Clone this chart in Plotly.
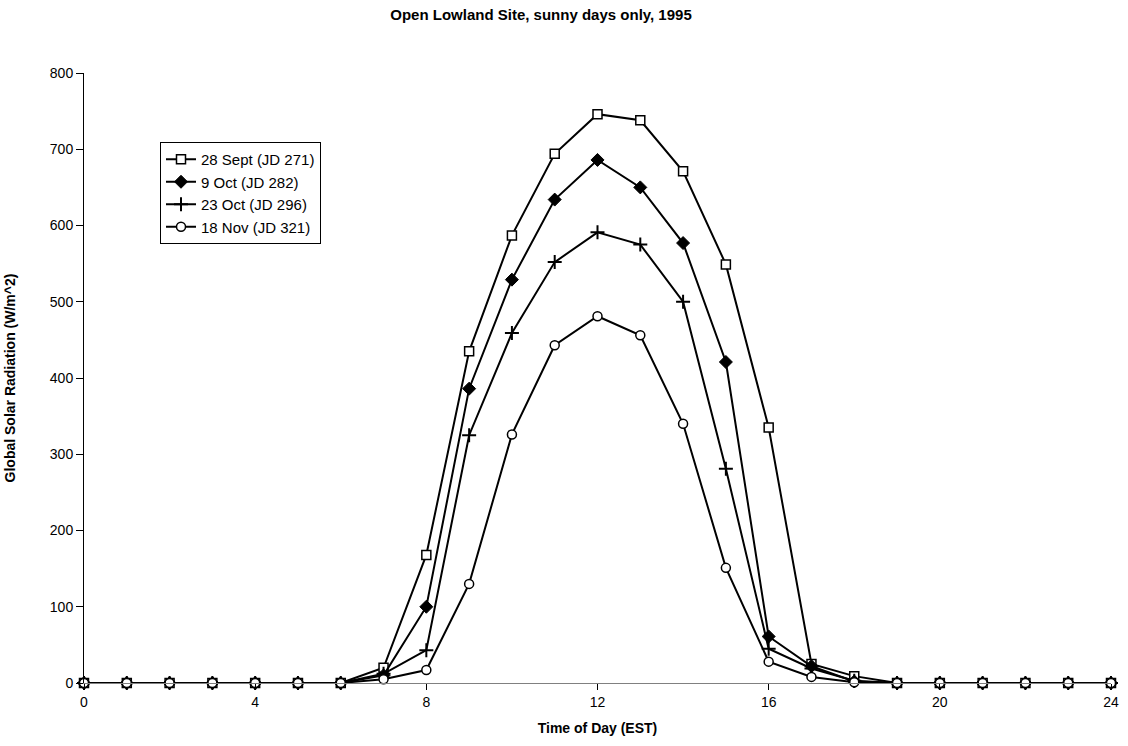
import plotly.graph_objects as go

hours = list(range(0, 25))
sept28 = [0, 0, 0, 0, 0, 0, 0, 20, 168, 435, 587, 694, 746, 738, 671, 549, 335, 25, 9, 0, 0, 0, 0, 0, 0]
oct9 = [0, 0, 0, 0, 0, 0, 0, 10, 100, 386, 529, 634, 686, 650, 577, 421, 61, 22, 2, 0, 0, 0, 0, 0, 0]
oct23 = [0, 0, 0, 0, 0, 0, 0, 12, 43, 325, 459, 552, 591, 575, 500, 281, 45, 19, 3, 0, 0, 0, 0, 0, 0]
nov18 = [0, 0, 0, 0, 0, 0, 0, 5, 17, 130, 326, 443, 481, 456, 340, 151, 28, 8, 1, 0, 0, 0, 0, 0, 0]

series = [
    ("28 Sept (JD 271)", sept28, dict(symbol="square", size=9, color="white", line=dict(color="black", width=1.5))),
    ("9 Oct (JD 282)", oct9, dict(symbol="diamond", size=10, color="black", line=dict(color="black", width=1))),
    ("23 Oct (JD 296)", oct23, dict(symbol="cross-thin-open", size=10, color="black", line=dict(color="black", width=2))),
    ("18 Nov (JD 321)", nov18, dict(symbol="circle", size=9, color="white", line=dict(color="black", width=1.5))),
]

fig = go.Figure()
for name, vals, mk in series:
    fig.add_trace(go.Scatter(
        x=hours, y=vals, name=name, mode="lines+markers",
        line=dict(color="black", width=2),
        marker=mk,
        cliponaxis=False,
    ))

font = "Liberation Sans, Arial, sans-serif"
fig.update_layout(
    width=1128, height=746,
    margin=dict(l=84, r=17, t=73, b=63, autoexpand=False),
    paper_bgcolor="white", plot_bgcolor="white",
    font=dict(family=font, size=14, color="black"),
    title=dict(text="<b>Open Lowland Site, sunny days only, 1995</b>", x=541 / 1128, xanchor="center",
               y=1 - 15 / 746, yanchor="middle", font=dict(size=15)),
    showlegend=True,
    legend=dict(x=(160 - 84) / 1027, y=(683 - 142) / 610, xanchor="left", yanchor="top",
                bgcolor="white", bordercolor="black", borderwidth=1,
                font=dict(size=15), itemwidth=30, tracegroupgap=0),
    xaxis=dict(range=[0, 24], tickvals=[0, 4, 8, 12, 16, 20, 24], ticks="outside", ticklen=6,
               tickcolor="black", showgrid=False, zeroline=False, showline=True, linecolor="#808080",
               linewidth=1, tickfont=dict(size=14), automargin=False,
               title=dict(text="<b>Time of Day (EST)</b>", font=dict(size=14), standoff=14)),
    yaxis=dict(range=[0, 800], dtick=100, ticks="outside", ticklen=7, tickcolor="black",
               showgrid=False, zeroline=False, showline=True, linecolor="black", linewidth=1,
               tickfont=dict(size=14), automargin=False,
               title=dict(text="<b>Global Solar Radiation (W/m^2)</b>", font=dict(size=14), standoff=30)),
)

fig.write_html("out.html")
